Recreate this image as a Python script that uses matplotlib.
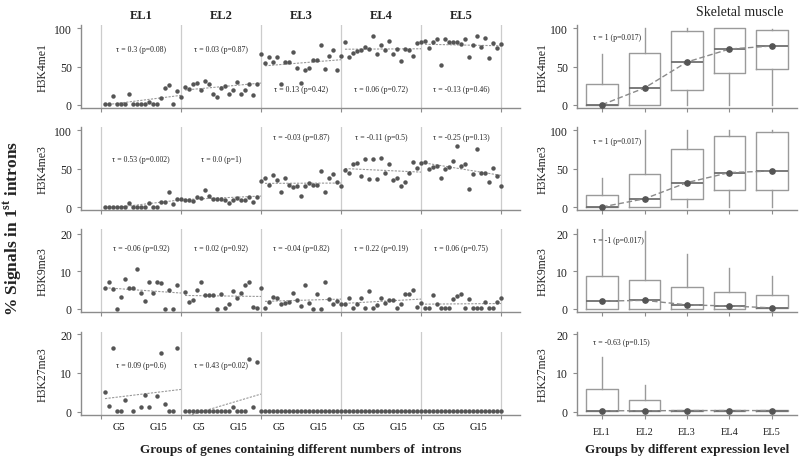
import numpy as np
import matplotlib.pyplot as plt

plt.rcParams['font.family'] = ['Liberation Serif', 'DejaVu Serif']
plt.rcParams['mathtext.fontset'] = 'custom'
plt.rcParams['mathtext.rm'] = 'Liberation Serif'
plt.rcParams['mathtext.bf'] = 'Liberation Serif:bold'

nan = np.nan
groups = ['EL1', 'EL2', 'EL3', 'EL4', 'EL5']
marks = ['H3K4me1', 'H3K4me3', 'H3K9me3', 'H3K27me3']
gene_groups = np.arange(1, 21)          # G1..G20 inside each EL block
tick_groups = [5, 15]

# % signal in 1st introns, one list per expression level (G1..G20)
h3k4me1 = [
    [0.5, 0.5, 11, 0.5, 0.5, 0.5, 14, 0.5, 0.5, 0.5, 0.5, 4, 0.5, 0.5, 9, 22, 26, 0.5, 18, 10],
    [23, 20, 27, 28.5, 19, 31.5, 27, 13.5, 9.5, 21.5, 24.5, 14.5, 19.5, 30, 14, 19.5, 27.5, 13, 27, 66.5],
    [55, 62, 56.5, 62, 27, 56, 56, 69, 48, 28, 45, 48, 58, 58, 78.5, 47, 63.5, 72, 46, 64.5],
    [82, 62, 68, 70.5, 71.5, 76, 73, 90, 67, 78, 72, 83, 67, 73, 57, 73, 71.5, 63.5, 81, 82],
    [83.5, 75, 82, 86, 52, 86, 82, 82, 82, 79.5, 85.5, 62, 78, 90, 76, 87, 61.5, 81, 74, 80],
]
h3k4me3 = [
    [0.5, 0.5, 0.5, 0.5, 0.5, 0.5, 5.5, 0.5, 0.5, 0.5, 0.5, 5.5, 0.5, 0.5, 7.5, 7.5, 20, 4.5, 10.8, 10.8],
    [10, 9, 8, 13.5, 12, 23, 15, 11, 11, 11, 9, 5.5, 10, 11.5, 9, 10, 13.5, 6.5, 13.5, 34],
    [37.5, 29.5, 42, 35, 20, 38, 29.5, 26, 28, 14, 28, 31.5, 28.5, 28.5, 46.5, 20, 38, 43.5, 33, 27],
    [48, 44, 55.5, 58, 41, 63, 37, 63, 36.5, 64, 45, 56.5, 36, 37.5, 27.5, 33, 44.5, 59, 50.5, 58],
    [59, 49, 52.5, 53.5, 38, 50, 52.5, 60.5, 80, 54, 56, 24, 43, 75, 44.5, 44, 32.5, 51, 41, 27],
]
h3k9me3 = [
    [5.4, 7.2, 5.1, 0, 3, 8, 5.4, 5.4, 10.5, 4.2, 2.1, 7.1, 4.2, 7.2, 6.9, 0, 5, 0, 6.3, nan],
    [4.5, 1.8, 2.3, 4.9, 7, 3.7, 3.7, 3.6, 0, 3.8, 0.1, 1.2, 4.7, 2.8, 4.2, 6.3, 7, 0.3, 0.1, 5.4],
    [0.2, 1.7, 3, 2.8, 1.1, 1.5, 1.7, 4.2, 2.3, 0.8, 6.2, 1.4, 0, 3.9, 0, 7, 2.5, 1.1, 2, 1.3],
    [1.1, 2.9, 0.2, 1.1, 2.9, 0.2, 4.6, 0.2, 0.9, 2.9, 1.5, 2.3, 2.3, 0.2, 1.1, 4.0, 4.0, 4.9, 0.5, 1.6],
    [0.2, 0.2, 3.6, 1.1, 0.2, 0.2, 0.2, 2.5, 3.4, 3.9, 0.2, 2.5, 0.2, 0.2, 0.2, 1.8, 0.2, 0.2, 1.8, 2.7],
]
h3k27me3 = [
    [5.1, 1.5, 16.5, 0.2, 0.2, 3.1, nan, 0.2, nan, 1.3, 4.3, 1.3, nan, 3.9, 15.2, 2.0, 0.2, 0.2, 16.5, nan],
    [0.2, 0.2, 0.2, 0.2, 0.2, 0.2, 0.2, 0.2, 0.2, 0.2, 0.2, 0.2, 1.3, 0.2, 0.2, 0.2, 13.5, 1.3, 12.8, 0.2],
    [0.2] * 20,
    [0.2] * 20,
    [0.2] * 20,
]
left_data = [h3k4me1, h3k4me3, h3k9me3, h3k27me3]

tau_k4me1 = ['τ = 0.3 (p=0.08)', 'τ = 0.03 (p=0.87)', 'τ = 0.13 (p=0.42)', 'τ = 0.06 (p=0.72)', 'τ = -0.13 (p=0.46)']
tau_k4me3 = ['τ = 0.53 (p=0.002)', 'τ = 0.0 (p=1)', 'τ = -0.03 (p=0.87)', 'τ = -0.11 (p=0.5)', 'τ = -0.25 (p=0.13)']
tau_k9me3 = ['τ = -0.06 (p=0.92)', 'τ = 0.02 (p=0.92)', 'τ = -0.04 (p=0.82)', 'τ = 0.22 (p=0.19)', 'τ = 0.06 (p=0.75)']
tau_k27me3 = ['τ = 0.09 (p=0.6)', 'τ = 0.43 (p=0.02)', '', '', '']
left_tau = [tau_k4me1, tau_k4me3, tau_k9me3, tau_k27me3]

# box stats by expression level (skeletal muscle)
box_q1 = [[0, 0, 19, 41, 47], [0, 0, 11, 22, 22], [0, 0, 0, 0, 0.2], [0.2, 0.2, 0.1, 0.1, 0.1]]
box_med = [[0, 22, 56, 73, 77], [0.5, 11, 32, 45, 47], [2, 2.2, 1, 0.7, 0.2], [0.2, 0.2, 0.25, 0.25, 0.25]]
box_q3 = [[27, 68, 97, 100, 97.5], [16, 43, 76, 92.5, 98], [8.8, 7.7, 5.8, 4.4, 3.6], [5.9, 2.9, 0.4, 0.4, 0.4]]
box_lo = [[0, 0, 0, 0, 0], [0, 0, 0, 0, 0], [0, 0, 0, 0, 0], [0, 0, 0, 0, 0]]
box_hi = [[67, 100, 100, 100, 99], [38, 100, 100, 100, 100], [25, 20.6, 14.5, 10.8, 8.8], [14, 7, 0.4, 0.4, 0.4]]
tau_expr = ['τ = 1 (p=0.017)', 'τ = 1 (p=0.017)', 'τ = -1 (p=0.017)', 'τ = -0.63 (p=0.15)']

# ---- layout ----
W, H = 800, 460
rows_px = [(26, 109), (128, 211), (230, 313), (333, 416)]
ylims = [(-4.3, 104.5), (-3.5, 104), (-0.9, 21.2), (-0.9, 20.6)]
yticks = [[0, 50, 100], [0, 50, 100], [0, 10, 20], [0, 10, 20]]
tau_y = [[0.71, 0.71, 0.23, 0.23, 0.23], [0.61, 0.61, 0.88, 0.88, 0.88],
         [0.77] * 5, [0.60] * 5]
tau_expr_y = [0.855, 0.83, 0.87, 0.88]

spine_c = '#8c8c8c'
div_c = '#cccccc'
dot_c = '#555555'
trend_c = '#999999'
text_c = '#222222'


def rect(x0, x1, top, bot):
    return [x0 / W, 1 - bot / H, (x1 - x0) / W, (bot - top) / H]


def style(ax):
    for s in ['top', 'right']:
        ax.spines[s].set_visible(False)
    for s in ['left', 'bottom']:
        ax.spines[s].set_color(spine_c)
        ax.spines[s].set_linewidth(1.0)
    ax.tick_params(colors=spine_c, labelcolor=text_c, length=3, width=0.8, labelsize=8.5)


fig = plt.figure(figsize=(8, 4.6), dpi=100)

for r, mark in enumerate(marks):
    top, bot = rows_px[r]

    # left: per intron-number group scatter
    ax = fig.add_axes(rect(81, 520, top, bot))
    style(ax)
    ax.set_xlim(-5, 104.75)
    ax.set_ylim(*ylims[r])
    ax.set_yticks(yticks[r])
    for k in range(len(groups) + 1):
        ax.axvline(20 * k, color=div_c, lw=0.9, zorder=0)
    for k, vals in enumerate(left_data[r]):
        y = np.array(vals, dtype=float)
        x = 20 * k + gene_groups
        ok = ~np.isnan(y)
        fit = np.polyfit(x[ok], y[ok], 1)
        ax.plot(x, np.polyval(fit, x), color=trend_c, lw=0.8, ls=(0, (2, 1.2)), zorder=1)
        ax.plot(x, y, 'o', color=dot_c, ms=3.2, mew=0, zorder=2, clip_on=False)
        if left_tau[r][k]:
            ax.text(20 * k + 10, tau_y[r][k], left_tau[r][k], transform=ax.get_xaxis_transform(),
                    ha='center', va='center', fontsize=5.6, color=text_c)
        if r == 0:
            ax.text(20 * k + 10, 1.12, groups[k], transform=ax.get_xaxis_transform(),
                    ha='center', va='center', fontsize=9, fontweight='bold', color=text_c)
    ax.set_xticks([20 * k for k in range(len(groups) + 1)])
    ax.set_xticklabels([])
    if r == len(marks) - 1:
        pos = [20 * k + g - 0.5 for k in range(len(groups)) for g in tick_groups]
        ax.set_xticks(pos, minor=True)
        ax.set_xticklabels([f'G{g}' for k in range(len(groups)) for g in tick_groups],
                           minor=True, fontsize=7.5)
        ax.tick_params(axis='x', which='minor', length=0, pad=5)
    fig.text(43 / W, 1 - (top + bot) / 2 / H, mark, rotation=90, ha='center', va='center',
             fontsize=8.5, color=text_c)

    # right: box plots by expression level
    axr = fig.add_axes(rect(577, 797, top, bot))
    style(axr)
    stats = []
    for j in range(len(groups)):
        stats.append(dict(med=box_med[r][j], q1=box_q1[r][j], q3=box_q3[r][j],
                          whislo=box_lo[r][j], whishi=box_hi[r][j], fliers=[]))
    pos = np.arange(1, len(groups) + 1)
    axr.bxp(stats, positions=pos, widths=0.75, showcaps=False, showfliers=False,
            boxprops=dict(color='#9a9a9a', lw=1.0),
            whiskerprops=dict(color='#9a9a9a', lw=1.0),
            medianprops=dict(color='#6f6f6f', lw=1.3))
    axr.plot(pos, box_med[r], ls=(0, (4, 2)), color='#8a8a8a', lw=1.0, marker='o',
             ms=3.8, mfc=dot_c, mec=dot_c, zorder=3)
    axr.set_xlim(0.41, 5.59)
    axr.set_ylim(*ylims[r])
    axr.set_yticks(yticks[r])
    axr.set_xticks(pos)
    if r == len(marks) - 1:
        axr.set_xticklabels(groups, fontsize=7.5)
        axr.tick_params(axis='x', pad=6)
    else:
        axr.set_xticklabels([])
    axr.text(0.79, tau_expr_y[r], tau_expr[r], transform=axr.get_xaxis_transform(),
             ha='left', va='center', fontsize=5.6, color=text_c)
    fig.text(543 / W, 1 - (top + bot) / 2 / H, mark, rotation=90, ha='center', va='center',
             fontsize=8.5, color=text_c)

fig.text(740 / W, 1 - 12 / H, 'Skeletal muscle', ha='center', va='center', fontsize=10, color=text_c)
fig.text(301 / W, 1 - 450 / H, 'Groups of genes containing different numbers of  introns',
         ha='center', va='center', fontsize=9.5, fontweight='bold', color=text_c)
fig.text(687 / W, 1 - 450 / H, 'Groups by different expression level',
         ha='center', va='center', fontsize=9.5, fontweight='bold', color=text_c)
fig.text(13 / W, 1 - 228 / H, r'% Signals in 1$^{\mathbf{st}}$ introns', rotation=90,
         ha='center', va='center', fontsize=12.5, fontweight='bold', color=text_c)

fig.savefig('out.png', dpi=100)
